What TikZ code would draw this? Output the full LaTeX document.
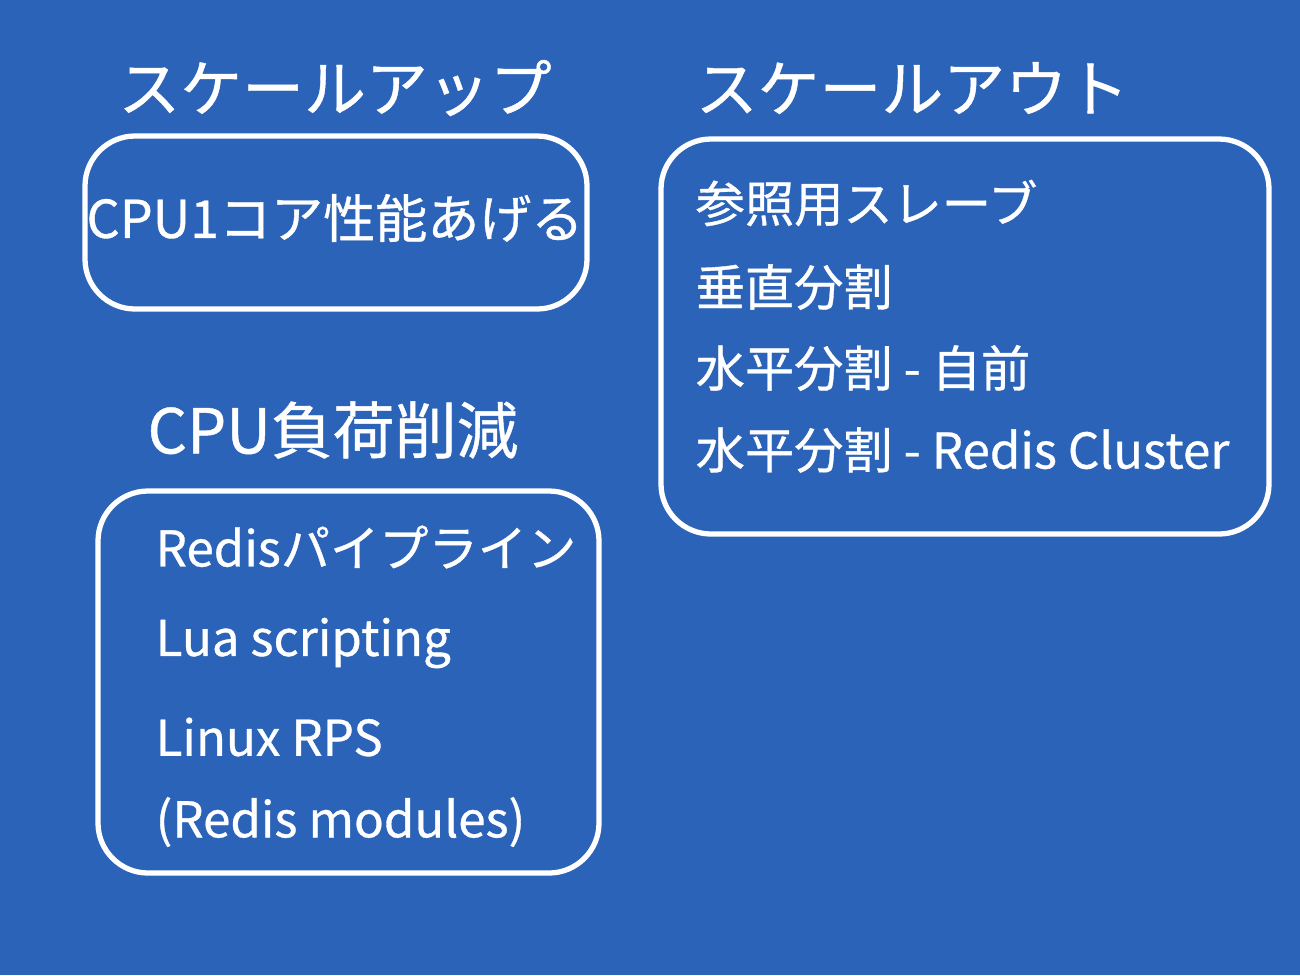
\documentclass[tikz,border=0pt]{standalone}
\usepackage{fontspec}
\setmainfont{Noto Sans CJK JP}
\newfontfamily\heavyfont[FakeBold=0.7]{Noto Sans CJK JP}
\definecolor{bg}{HTML}{2B63B9}
\begin{document}
\begin{tikzpicture}[x=0.01cm,y=-0.01cm,
  panel/.style={draw=white,line width=1.5pt,rounded corners=0.5cm},
  title/.style={text=white,font=\heavyfont\fontsize{17.6}{20}\selectfont,inner sep=0},
  item/.style={text=white,font=\heavyfont\fontsize{14}{16}\selectfont,inner sep=0,anchor=west}]
\fill[bg] (0,0) rectangle (1300,975);
\useasboundingbox (0,0) rectangle (1300,975);
% titles
\node[title] (t1) at (335,88) {スケールアップ};
\node[title,anchor=west] (t2) at (695,88) {スケールアウト};
\node[title] (t3) at (333,430) {CPU負荷削減};
% boxes
\draw[panel] (85,136) rectangle (587,309);
\draw[panel] (661,139) rectangle (1269,534);
\draw[panel] (98,491) rectangle (599,873);
% box 1
\node[item,anchor=center,font=\heavyfont\fontsize{14.8}{17}\selectfont] (a1) at (335,218) {CPU1コア性能あげる};
% right box
\node[item] (b1) at (695,203) {参照用スレーブ};
\node[item] (b2) at (695,287) {垂直分割};
\node[item] (b3) at (695,368) {水平分割 - 自前};
\node[item] (b4) at (695,450) {水平分割 - Redis Cluster};
% box 3
\node[item] (c1) at (155,547) {Redisパイプライン};
\node[item] (c2) at (155,643) {Lua scripting};
\node[item] (c3) at (155,737) {Linux RPS};
\node[item] (c4) at (155,822) {(Redis modules)};
\end{tikzpicture}
\end{document}
